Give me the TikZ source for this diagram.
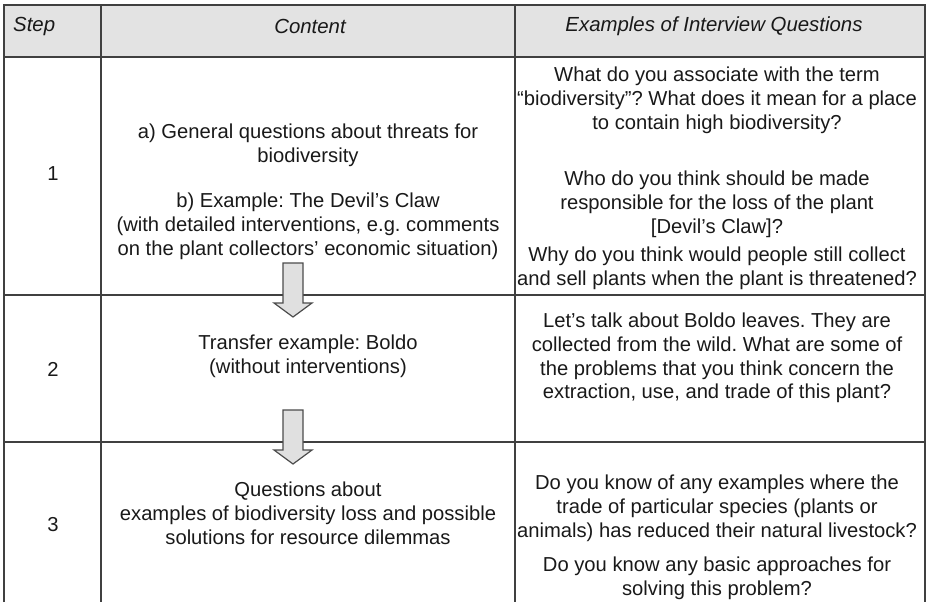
\documentclass[tikz,border=0pt]{standalone}
\usepackage{fontspec}
\setmainfont{Liberation Sans}
\usetikzlibrary{positioning}
\frenchspacing

\tikzset{
  cell/.style={align=center, font=\fontsize{20.2}{23.8}\selectfont, text=black!90, inner sep=0pt},
  head/.style={font=\fontsize{20.4}{23.8}\selectfont\itshape, text=black!90, inner sep=0pt},
  gridline/.style={draw=black!75, line width=1.4pt},
  blockarrow/.style={draw=black!70, fill=black!12, line width=1.2pt, line join=miter},
}

\begin{document}
\begin{tikzpicture}[x=1pt,y=-1pt]
  \useasboundingbox (0,0) rectangle (928,602);

  % table frame
  \fill[black!11] (4,5) rectangle (925,57);
  \draw[gridline] (4,602) -- (4,5) -- (925,5) -- (925,602);
  \draw[gridline] (4,57) -- (925,57);
  \draw[gridline] (101,5) -- (101,602);
  \draw[gridline] (515,5) -- (515,602);
  \draw[gridline] (4,295) -- (925,295);
  \draw[gridline] (4,442) -- (925,442);

  % header
  \node[head, anchor=west] (hstep) at (13,26) {Step};
  \node[head] (hcontent) at (310,26) {Content};
  \node[head] (hquest) at (714,26) {Examples of Interview Questions};

  % steps
  \node[cell] (s1) at (53,174) {1};
  \node[cell] (s2) at (53,369) {2};
  \node[cell] (s3) at (53,525) {3};

  % content
  \node[cell] (ca) at (308,145) {a) General questions about threats for\\biodiversity};
  \node[cell] (cb) at (308,202) {b) Example: The Devil's Claw};
  \node[cell] (cc) at (308,238) {(with detailed interventions, e.g. comments\\on the plant collectors' economic situation)};
  \node[cell] (c2) at (308,356) {Transfer example: Boldo\\(without interventions)};
  \node[cell] (c3) at (308,513) {Questions about\\examples of biodiversity loss and possible\\solutions for resource dilemmas};

  % questions
  \node[cell] (qa) at (717,100) {What do you associate with the term\\“biodiversity”? What does it mean for a place\\to contain high biodiversity?};
  \node[cell] (qb) at (717,204) {Who do you think should be made\\responsible for the loss of the plant\\{[}Devil's Claw]?};
  \node[cell] (qc) at (717,268) {Why do you think would people still collect\\and sell plants when the plant is threatened?};
  \node[cell] (q2) at (717,358) {Let's talk about Boldo leaves. They are\\collected from the wild. What are some of\\the problems that you think concern the\\extraction, use, and trade of this plant?};
  \node[cell] (q3a) at (717,508) {Do you know of any examples where the\\trade of particular species (plants or\\animals) has reduced their natural livestock?};
  \node[cell] (q3b) at (717,578) {Do you know any basic approaches for\\solving this problem?};

  % block arrows between steps
  \draw[blockarrow] (283,263) -- (303,263) -- (303,303) -- (312,303) -- (293,317) -- (274,303) -- (283,303) -- cycle;
  \draw[blockarrow] (283,410) -- (303,410) -- (303,450) -- (312,450) -- (293,464) -- (274,450) -- (283,450) -- cycle;
\end{tikzpicture}
\end{document}
